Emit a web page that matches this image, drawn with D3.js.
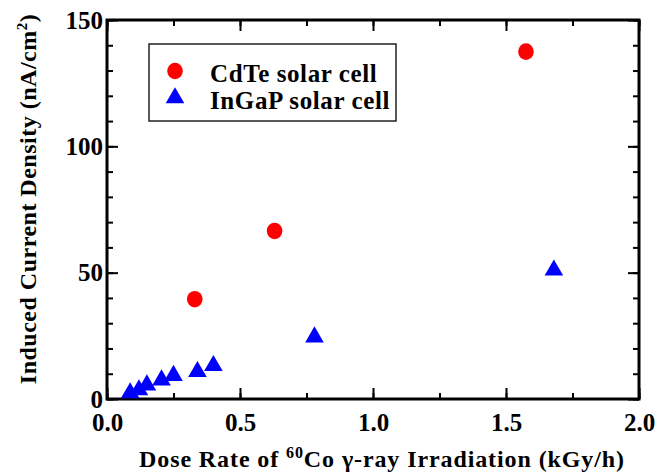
<!DOCTYPE html>
<html>
<head>
<meta charset="utf-8">
<script src="https://cdn.jsdelivr.net/npm/d3@7"></script>
<style>
  body { margin: 0; background: #fff; }
  text { font-family: "Liberation Serif", "Times New Roman", serif; font-weight: bold; }
</style>
</head>
<body>
<div id="chart-area"></div>
<script>
// data
const cdteDose = [0.33, 0.63, 1.575];
const cdteCurrent = [39.5, 66.5, 137.5];
const ingapDose = [0.087, 0.12, 0.15, 0.205, 0.25, 0.34, 0.40, 0.78, 1.68];
const ingapCurrent = [2.4, 3.6, 5.5, 7.5, 9.3, 10.8, 13.2, 24.5, 51];
const xTicks = [0, 0.5, 1.0, 1.5, 2.0];
const yTicks = [0, 50, 100, 150];
const seriesNames = ['CdTe solar cell', 'InGaP solar cell'];

const margin = { left: 107, right: 16, top: 20, bottom: 73 };
const W = 655, H = 472;
const width = W - margin.left - margin.right;
const height = H - margin.top - margin.bottom;

const svg = d3.select('#chart-area').append('svg')
  .attr('width', W)
  .attr('height', H);

const g = svg.append('g')
  .attr('transform', `translate(${margin.left}, ${margin.top})`);

const x = d3.scaleLinear().domain([0, 2]).range([0, width]);
const y = d3.scaleLinear().domain([0, 150]).range([height, 0]);

// minor ticks (inside, all four sides)
const xMinor = d3.range(0, 2.001, 0.25);
const yMinor = d3.range(0, 150.1, 10);

g.append('g').attr('transform', `translate(0, ${height})`)
  .call(d3.axisBottom(x).tickValues(xMinor).tickSize(-6).tickFormat(''));
g.append('g')
  .call(d3.axisTop(x).tickValues(xMinor).tickSize(-6).tickFormat(''));
g.append('g')
  .call(d3.axisLeft(y).tickValues(yMinor).tickSize(-6).tickFormat(''));
g.append('g').attr('transform', `translate(${width}, 0)`)
  .call(d3.axisRight(y).tickValues(yMinor).tickSize(-6).tickFormat(''));

// major ticks with labels
const xAxis = g.append('g').attr('class', 'x-axis')
  .attr('transform', `translate(0, ${height})`)
  .call(d3.axisBottom(x).tickValues(xTicks).tickSize(-11).tickPadding(12)
    .tickFormat(d3.format('.1f')));
g.append('g')
  .call(d3.axisTop(x).tickValues(xTicks).tickSize(-11).tickFormat(''));
const yAxis = g.append('g').attr('class', 'y-axis')
  .call(d3.axisLeft(y).tickValues(yTicks).tickSize(-11).tickPadding(4));
g.append('g').attr('transform', `translate(${width}, 0)`)
  .call(d3.axisRight(y).tickValues(yTicks).tickSize(-11).tickFormat(''));

g.selectAll('.domain').remove();
g.selectAll('.tick line').attr('stroke', '#000').attr('stroke-width', 2);
g.selectAll('.tick text')
  .attr('font-family', '"Liberation Serif", serif')
  .attr('font-weight', 'bold')
  .attr('font-size', 25)
  .attr('fill', '#000');
xAxis.selectAll('text').attr('dy', '0.78em');

// frame
g.append('rect')
  .attr('width', width)
  .attr('height', height)
  .attr('fill', 'none')
  .attr('stroke', '#000')
  .attr('stroke-width', 3);

// points
const cdte = cdteDose.map((d, i) => ({ x: d, y: cdteCurrent[i] }));
const ingap = ingapDose.map((d, i) => ({ x: d, y: ingapCurrent[i] }));

const tri = d3.symbol().type(d3.symbolTriangle).size(150);

g.selectAll('.cdte').data(cdte).enter()
  .append('ellipse')
    .attr('class', 'cdte')
    .attr('cx', d => x(d.x))
    .attr('cy', d => y(d.y))
    .attr('rx', 7.8)
    .attr('ry', 8.3)
    .attr('fill', '#ff0000');

g.selectAll('.ingap').data(ingap).enter()
  .append('path')
    .attr('class', 'ingap')
    .attr('d', tri)
    .attr('transform', d => `translate(${x(d.x)}, ${y(d.y)})`)
    .attr('fill', '#0000ff');

// legend
const legend = svg.append('g').attr('transform', 'translate(149, 44)');
legend.append('rect')
  .attr('width', 247)
  .attr('height', 77)
  .attr('fill', '#fff')
  .attr('stroke', '#222')
  .attr('stroke-width', 1.5);
legend.append('ellipse')
  .attr('cx', 26).attr('cy', 27)
  .attr('rx', 7.8).attr('ry', 8.3)
  .attr('fill', '#ff0000');
legend.append('path')
  .attr('d', tri)
  .attr('transform', 'translate(26, 54)')
  .attr('fill', '#0000ff');
legend.selectAll('.lab').data(seriesNames).enter()
  .append('text')
    .attr('class', 'lab')
    .attr('x', 61)
    .attr('y', (d, i) => 38 + i * 27)
    .attr('font-size', 25)
    .attr('letter-spacing', 0.6)
    .text(d => d);

// y axis label
const yl = svg.append('text')
  .attr('transform', `translate(36, ${margin.top + 179}) rotate(-90)`)
  .attr('text-anchor', 'middle')
  .attr('font-size', 24)
  .attr('letter-spacing', 0.5);
yl.append('tspan').text('Induced Current Density (nA/cm');
yl.append('tspan').attr('dy', -9).attr('font-size', 15).text('2');
yl.append('tspan').attr('dy', 9).text(')');

// x axis label
const xl = svg.append('text')
  .attr('x', 382)
  .attr('y', 467)
  .attr('text-anchor', 'middle')
  .attr('font-size', 24)
  .attr('letter-spacing', 0.9);
xl.append('tspan').text('Dose Rate of ');
xl.append('tspan').attr('dy', -9).attr('font-size', 16).text('60');
xl.append('tspan').attr('dy', 9).text('Co \u03b3-ray Irradiation (kGy/h)');
</script>
</body>
</html>
